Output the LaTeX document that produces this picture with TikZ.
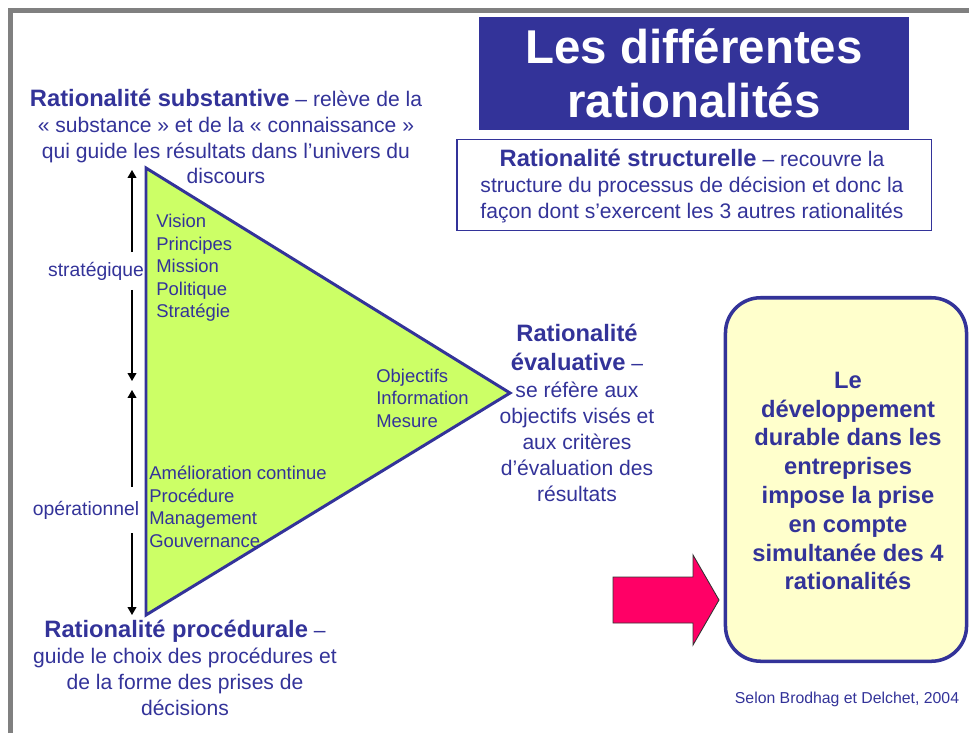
\documentclass[tikz,border=0pt]{standalone}
\usepackage{fontspec}
\setmainfont{Liberation Sans}
\usepackage{tikz}
\usetikzlibrary{positioning}
\usetikzlibrary{arrows.meta}
\definecolor{ratblue}{HTML}{333399}
\definecolor{ratlime}{HTML}{CCFF66}
\definecolor{ratcream}{HTML}{FFFFCC}
\definecolor{ratpink}{HTML}{FF0066}
\definecolor{framegray}{HTML}{808080}
\tikzset{ratext/.style={text=ratblue, align=center, inner sep=0pt, font=\fontsize{12}{14.7}\selectfont}}
\tikzset{listtext/.style={text=ratblue, align=left, anchor=west, inner sep=0pt, font=\fontsize{10.5}{12.8}\selectfont}}
\tikzset{levellabel/.style={text=ratblue, fill=white, inner xsep=0pt, inner ysep=0pt, minimum height=21pt, font=\fontsize{11}{13}\selectfont}}
\tikzset{levelarrow/.style={-{Triangle[length=4.5pt,width=5pt]}, black, line width=0.6pt}}
\tikzset{pyramid/.style={draw=ratblue, fill=ratlime, line width=1.7pt, line join=miter}}
\newcommand{\ratbold}[1]{{\fontsize{13.5}{16.4}\selectfont\bfseries #1}}

\begin{document}
\begin{tikzpicture}[x=0.02cm, y=-0.02cm]
\useasboundingbox (0,0) rectangle (969,733);
\draw[framegray, line width=2.8pt] (10.5,733) -- (10.5,10.5) -- (969,10.5);
% titre et rationalite structurelle
\node[fill=ratblue, text=white, align=center, minimum width=244.9pt, minimum height=64.1pt,
  font=\fontsize{27}{31}\selectfont\bfseries] (title) at (694,73.5) {Les différentes\\rationalités};
\node[draw=ratblue, line width=0.6pt, minimum width=269.8pt, minimum height=52.2pt] (structbox) at (694,185) {};
\node[ratext] (struct) at (692,186) {\ratbold{Rationalité structurelle} -- recouvre la\\
  structure du processus de décision et donc la\\façon dont s’exercent les 3 autres rationalités};
\node[ratext] (subst) at (226,136.5) {\ratbold{Rationalité substantive} -- relève de la\\
  « substance » et de la « connaissance »\\qui guide les résultats dans l’univers du\\discours};
% niveaux
\coordinate (stratTop) at (132,170);
\coordinate (stratBot) at (132,381);
\coordinate (operTop) at (132,390);
\coordinate (operBot) at (132,615);
\node[levellabel] (strat) at (96,271) {stratégique};
\node[levellabel, minimum height=26pt] (oper) at (86,510) {opérationnel};
\draw[levelarrow] (stratTop |- strat.north) -- (stratTop);
\draw[levelarrow] (stratTop |- strat.south) -- (stratBot);
\draw[levelarrow] (operTop |- oper.north) -- (operTop);
\draw[levelarrow] (operTop |- oper.south) -- (operBot);
% triangle
\coordinate (triTop) at (146,168);
\coordinate (triTip) at (510,393);
\coordinate (triBot) at (146,615);
\draw[pyramid] (triTop) -- (triTip) -- (triBot) -- cycle;
\node[listtext] (strategy) at (156,268) {Vision\\Principes\\Mission\\Politique\\Stratégie};
\node[listtext] (measure) at (376,398) {Objectifs\\Information\\Mesure};
\node[listtext] (manage) at (149,507) {Amélioration continue\\Procédure\\Management\\Gouvernance};
\node[ratext] (evalu) at (577,413) {\ratbold{Rationalité}\\[1.5pt]\ratbold{évaluative} --\\[1pt]
  se réfère aux\\objectifs visés et\\aux critères\\d’évaluation des\\résultats};
\node[ratext] (proc) at (185,668) {\ratbold{Rationalité procédurale} --\\
  guide le choix des procédures et\\de la forme des prises de\\décisions};
% developpement durable
\draw[fill=ratpink, draw=black!80, line width=0.5pt] (613,577) -- (693,577) -- (693,555) -- (719,600)
  -- (693,645) -- (693,623) -- (613,623) -- cycle;
\node[draw=ratblue, fill=ratcream, line width=2pt, rounded corners=20pt, minimum width=137.2pt,
  minimum height=206.9pt] (goalbox) at (846,479.5) {};
\node[text=ratblue, align=center, font=\fontsize{13.5}{16.4}\selectfont\bfseries] (goal) at (848,481)
  {Le\\développement\\durable dans les\\entreprises\\impose la prise\\en compte\\simultanée des 4\\rationalités};
\node[text=ratblue, font=\fontsize{9}{11}\selectfont] (source) at (847,699) {Selon Brodhag et Delchet, 2004};
\end{tikzpicture}
\end{document}
